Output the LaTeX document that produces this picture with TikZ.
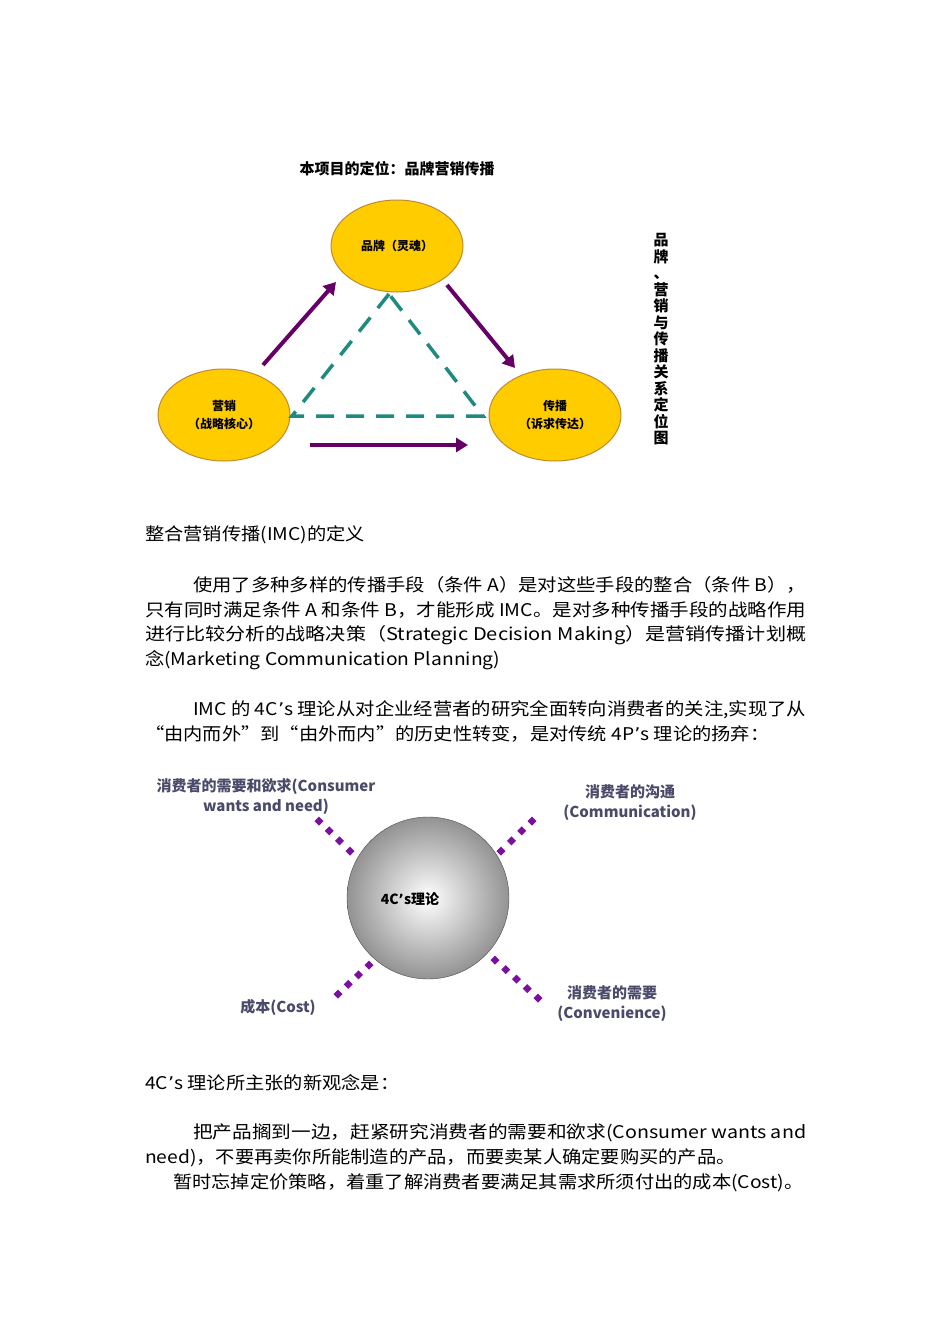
\documentclass[tikz,border=0pt]{standalone}
\usepackage{fontspec}
\usepackage{graphicx}
\setmainfont{Noto Sans CJK SC}
\newfontfamily\dvfont{DejaVu Sans}
\newcommand{\apo}{{\dvfont ’}}
\newcommand{\jl}[2]{\resizebox{#1pt}{\height}{#2}}
\newcommand{\wl}[1]{\scalebox{1.1}[1]{#1}}
\usetikzlibrary{arrows.meta,calc,shapes.geometric}
\definecolor{gold}{HTML}{FFCC00}
\definecolor{goldedge}{HTML}{C08A30}
\definecolor{arrowpurple}{HTML}{660066}
\definecolor{teal2}{HTML}{1F8A80}
\definecolor{dotpurple}{HTML}{7A0FA0}
\definecolor{labgray}{HTML}{4A4A6A}
\tikzset{
  oval/.style={ellipse, draw=goldedge, line width=1pt, fill=gold, minimum width=132pt, minimum height=92pt, font=\bfseries\fontsize{12}{14}\selectfont, align=center},
  flow/.style={draw=arrowpurple, line width=4pt, -{Triangle[length=12pt,width=14pt]}},
  link/.style={draw=teal2, line width=3.5pt, dash pattern=on 18pt off 12pt},
  body/.style={anchor=west, inner sep=0pt, font=\fontsize{17.5}{20}\selectfont},
  clab/.style={font=\bfseries\fontsize{15}{18}\selectfont, text=labgray, align=center, inner sep=0pt},
}
\newcommand{\dline}[2]{\foreach \t in {0,0.33,0.66,1}{\path ($(#1)!\t!(#2)$) coordinate (dd); \fill[dotpurple] (dd) ++(-4.5,0) -- ++(4.5,-4.5) -- ++(4.5,4.5) -- ++(-4.5,4.5) -- cycle;}}
\begin{document}
\begin{tikzpicture}[x=1pt,y=-1pt]
\useasboundingbox (0,0) rectangle (950,1344);
\fill[white] (0,0) rectangle (950,1344);
\node[font=\bfseries\fontsize{15}{18}\selectfont] (title) at (397,169) {本项目的定位：品牌营销传播};
\node[oval] (brand) at (397,246) {品牌（灵魂）};
\node[oval] (mkt) at (224,415) {营销\\[4pt]（战略核心）};
\node[oval] (comm) at (555,415) {传播\\[4pt]（诉求传达）};
\coordinate (a1) at (263,365); \coordinate (a2) at (336,282);
\coordinate (b1) at (447,285); \coordinate (b2) at (515,368);
\coordinate (c1) at (310,445); \coordinate (c2) at (468,445);
\draw[flow] (a1) -- (a2);
\draw[flow] (b1) -- (b2);
\draw[flow] (c1) -- (c2);
\coordinate (t1) at (389,294); \coordinate (t2) at (292,416); \coordinate (t3) at (483,416);
\draw[link] (t1) -- (t2) -- (t3) -- (t1);
\node[font=\bfseries\fontsize{15}{16.5}\selectfont, align=center, anchor=north] (vt) at (661,230) {品\\牌\\、\\营\\销\\与\\传\\播\\关\\系\\定\\位\\图};
\node[body] (h1) at (145,535) {\wl{整合营销传播(IMC)的定义}};
\node[body] (p1) at (193,585) {\jl{613}{使用了多种多样的传播手段（条件 A）是对这些手段的整合（条件 B），}};
\node[body] (p2) at (145,610) {\jl{661}{只有同时满足条件 A 和条件 B，才能形成 IMC。是对多种传播手段的战略作用}};
\node[body] (p3) at (145,635) {\jl{661}{进行比较分析的战略决策（Strategic Decision Making）是营销传播计划概}};
\node[body] (p4) at (145,660) {\wl{念(Marketing Communication Planning)}};
\node[body] (q1) at (193,710) {\jl{613}{IMC 的 4C\apo s 理论从对企业经营者的研究全面转向消费者的关注,实现了从}};
\node[body] (q2) at (145,734) {\wl{“由内而外”到“由外而内”的历史性转变，是对传统 4P\apo s 理论的扬弃：}};
\shade[inner color=white, outer color=gray!85, draw=gray!60!black] (428,898) circle (81);
\node[font=\bfseries\fontsize{14}{16}\selectfont] (core) at (410,899) {4C\apo s理论};
\coordinate (nw1) at (319,821); \coordinate (nw2) at (350,851);
\coordinate (ne1) at (532,821); \coordinate (ne2) at (501,851);
\coordinate (sw1) at (338,994); \coordinate (sw2) at (369,965);
\coordinate (se1) at (538,998); \coordinate (se2) at (495,960);
\dline{nw1}{nw2} \dline{ne1}{ne2} \dline{sw1}{sw2}
\foreach \t in {0,0.25,0.5,0.75,1}{\path ($(se2)!\t!(se1)$) coordinate (dd); \fill[dotpurple] (dd) ++(-4.5,0) -- ++(4.5,-4.5) -- ++(4.5,4.5) -- ++(-4.5,4.5) -- cycle;}
\node[clab] (l1) at (266,797) {消费者的需要和欲求(Consumer\\[2pt]wants and need)};
\node[clab] (l2) at (630,803) {消费者的沟通\\[2pt](Communication)};
\node[clab] (l3) at (278,1007) {成本(Cost)};
\node[clab] (l4) at (612,1004) {消费者的需要\\[2pt](Convenience)};
\node[body] (r1) at (145,1083) {\wl{4C\apo s 理论所主张的新观念是：}};
\node[body] (s1) at (193,1133) {\jl{613}{把产品搁到一边，赶紧研究消费者的需要和欲求(Consumer wants and}};
\node[body] (s2) at (145,1158) {\wl{need)，不要再卖你所能制造的产品，而要卖某人确定要购买的产品。}};
\node[body] (s3) at (173,1183) {\wl{暂时忘掉定价策略，着重了解消费者要满足其需求所须付出的成本(Cost)。}};
\end{tikzpicture}
\end{document}
